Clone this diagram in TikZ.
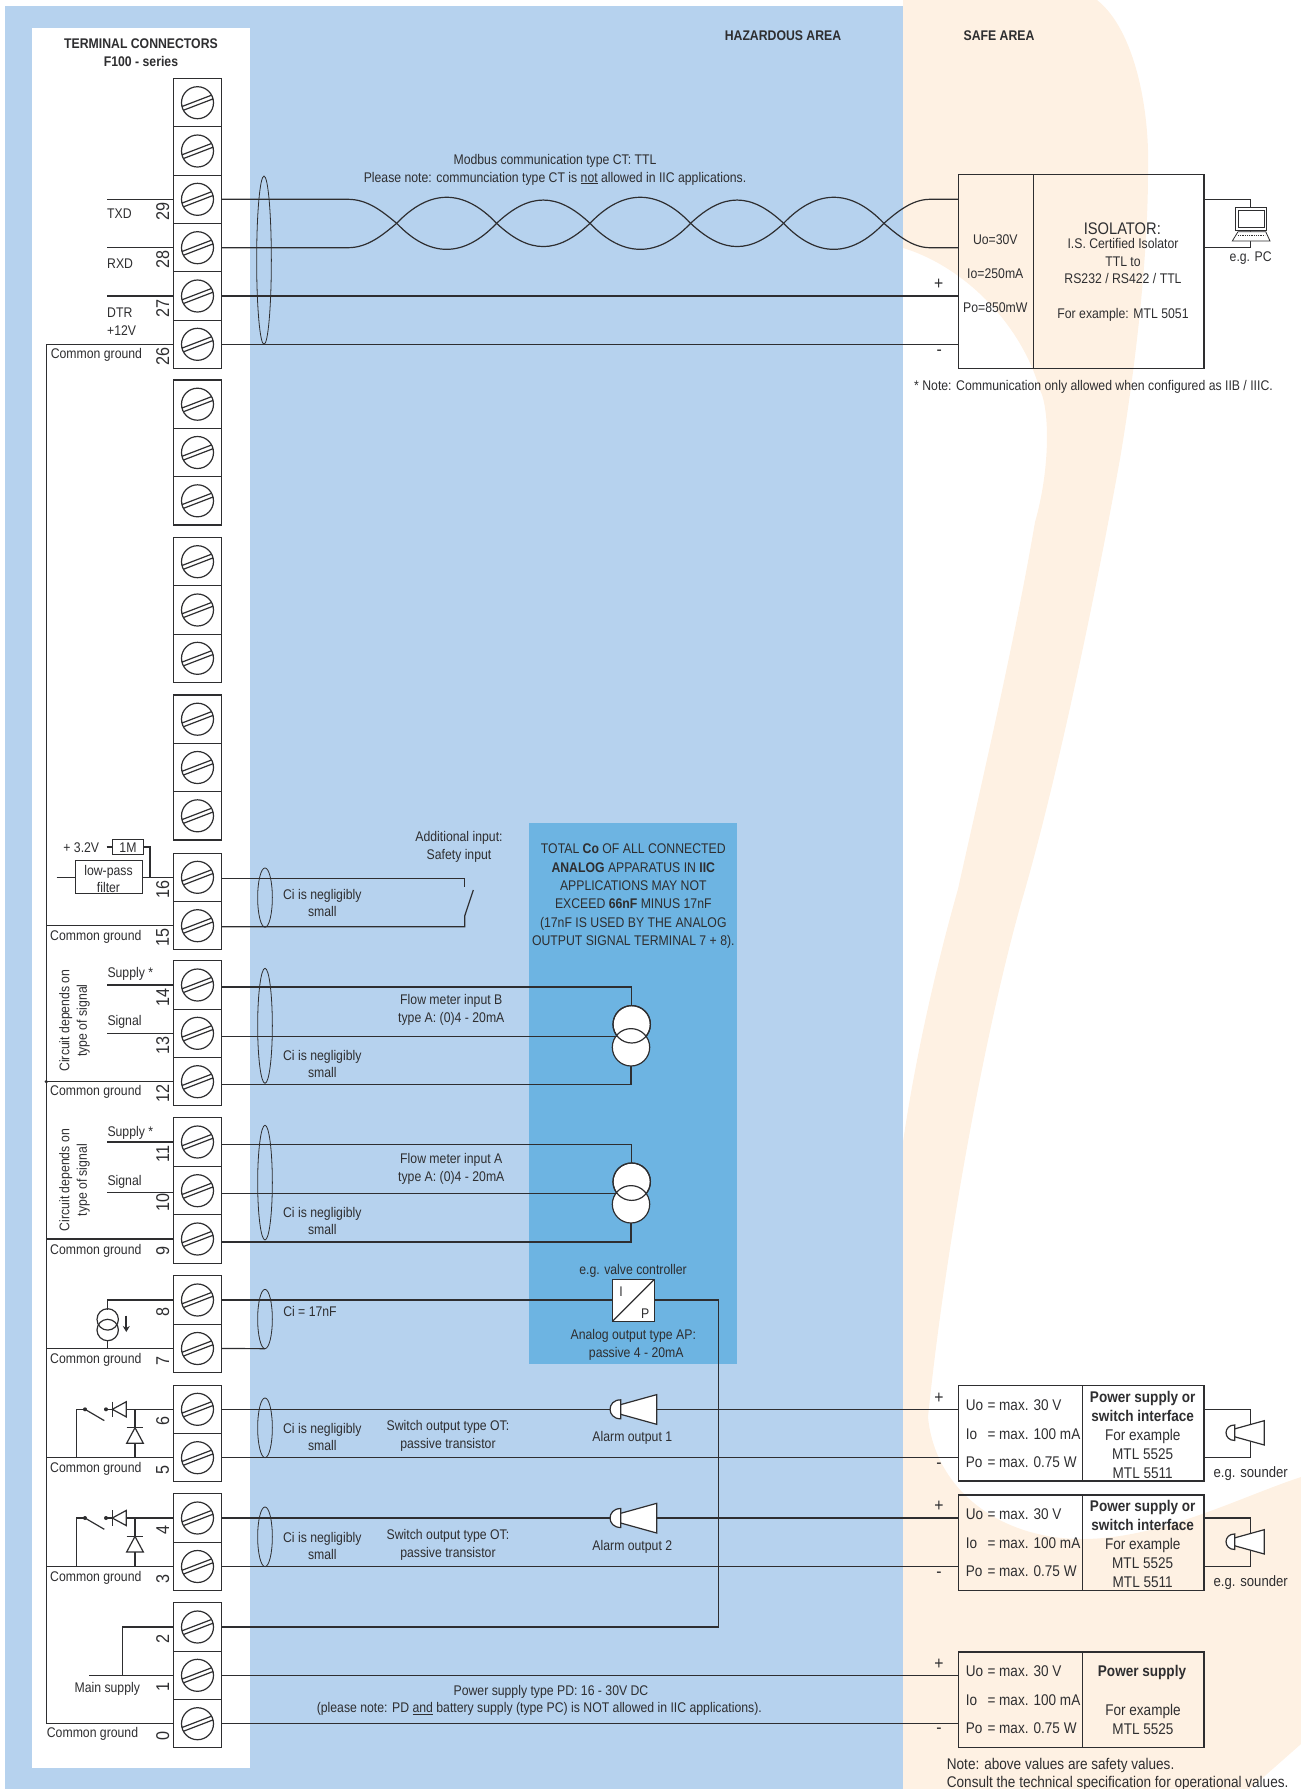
\documentclass[tikz,border=0pt]{standalone}
\usepackage{fontspec}
\setmainfont[FakeStretch=0.875]{Liberation Sans}
\usetikzlibrary{shapes.geometric,arrows.meta}
\definecolor{hazblue}{HTML}{B6D2EE}
\definecolor{darkblue}{HTML}{6DB4E2}
\definecolor{safecream}{HTML}{FEF1E3}
\definecolor{inkcol}{HTML}{2E2E30}
\tikzset{
wire/.style={line width=1.2pt,draw=inkcol},
thinwire/.style={line width=0.8pt,draw=inkcol},
termcell/.style={rectangle,draw=inkcol,line width=1.2pt,fill=white,minimum width=48pt,minimum height=48.3pt,inner sep=0pt,outer sep=0pt},
cablering/.style={ellipse,draw=inkcol,line width=0.8pt,minimum width=14.7pt,inner sep=0pt,outer sep=0pt},
cursrc/.style={circle,draw=inkcol,line width=1.2pt,fill=white,minimum size=37.4pt,inner sep=0pt,outer sep=0pt},
boxcell/.style={rectangle,draw=inkcol,line width=1.3pt,inner sep=0pt,outer sep=0pt},
txt/.style={font=\fontsize{14}{17.5}\selectfont,inner sep=0pt,align=center,text=inkcol,yshift=-1.2pt},
ltxt/.style={txt,anchor=west,align=left},
hdr/.style={font=\fontsize{14}{18}\selectfont\bfseries,inner sep=0pt,align=center,text=inkcol,yshift=-1pt},
safetxt/.style={font=\fontsize{15.5}{19}\selectfont,inner sep=0pt,align=center,text=inkcol,yshift=-1pt},
signtxt/.style={font=\fontsize{18}{20}\selectfont,inner sep=0pt,text=inkcol},
numtxt/.style={font=\fontsize{18.5}{20}\selectfont,inner sep=0pt,rotate=90,text=inkcol},
}
\newcommand{\hornsym}[3]{
\begin{scope}[shift={(#1,#2)},scale=#3]
\draw[wire,fill=white] (10.7,-9.5) ..controls (-3.5,-9.5) and (-3.5,9.5) .. (10.7,9.5) -- cycle;
\draw[wire,fill=white] (10.7,-4.7) -- (46.7,-14.7) -- (46.7,15) -- (10.7,5) -- cycle;
\end{scope}
}
\begin{document}
\begin{tikzpicture}[x=1pt,y=-1pt]
\useasboundingbox (0,0) rectangle (1301,1789);
\fill[safecream] (903,0) -- (1097,0) ..controls (1135,30) and (1150,110) .. (1148,172) ..controls (1148,260) and (1135,370) .. (1120,459) ..controls (1100,570) and (1060,770) .. (1022,900) ..controls (985,1030) and (945,1250) .. (928,1417) ..controls (935,1490) and (1000,1539) .. (1082,1539) ..controls (1160,1539) and (1240,1497) .. (1301,1477) -- (1301,1744) -- (1250,1789) -- (903,1789) -- (903,1142) ..controls (915,1060) and (935,970) .. (958,889) ..controls (980,790) and (1015,640) .. (1035,522) ..controls (1050,470) and (1050,410) .. (1040,390) ..controls (1020,320) and (960,265) .. (903,248) -- cycle;
\fill[hazblue] (5,6) rectangle (903,1789);
\fill[white] (32,28) rectangle (250,1767.8);
\fill[darkblue] (529,823) rectangle (737,1364);

\node[hdr] (areahaz) at (783,34.5) {HAZARDOUS AREA};
\node[hdr] (areasafe) at (999,34.5) {SAFE AREA};
\node[hdr] (termtitle) at (141,52) {TERMINAL CONNECTORS\\F100 - series};

\foreach \n/\yy in {a/102.7,b/151,29/199.3,28/247.7,27/296,26/344.3,c/404.2,d/452.5,e/500.8,f/561.7,g/610,h/658.3,k/719.2,l/767.5,m/815.8,16/877.3,15/925.7,14/985,13/1033.3,12/1081.7,11/1142,10/1190.7,9/1239,8/1300,7/1348.5,6/1409.3,5/1457.7,4/1518,3/1566.5,2/1627,1/1675.3,0/1723.7} {
\node[termcell] (t\n) at (197.5,\yy) {};
\draw[wire,shift={(t\n.center)}] (0,0) circle [radius=16] (-14.13,7.56) -- (15.57,-3.82) (-15.57,3.82) -- (14.13,-7.56);
}
\foreach \n in {29,28,27,26,16,15,14,13,12,11,10,9,8,7,6,5,4,3,2,1,0} {
\node[numtxt] (n\n) at ([xshift=-10.8,yshift=-12]t\n.west) {\n};
}
\foreach \n/\d in {16/-1,15/-1,14/-2,13/-3,12/-3,11/-2.3,10/-2.8,9/-3} {
\coordinate (w\n) at ([yshift=\d]t\n.east);
}
\foreach \c/\yy/\h in {cabe/897.6/59.3,cabf/1025.8/115,cabg/1182.6/114.7,cabh/1319/59.3,cabi/1427.8/59.7,cabj/1536.8/59.7} {
\node[cablering,minimum height=\h pt] (\c) at (265,\yy) {};
}
\node[cablering,minimum height=168.3pt] (caba) at (264,260.2) {};

\node[boxcell,minimum width=75pt,minimum height=193.6pt] (isoa) at (996.2,271.5) {};
\node[boxcell,minimum width=170.3pt,minimum height=193.6pt] (isob) at (1118.9,271.5) {};
\node[txt,font=\fontsize{14}{34}\selectfont] (isovals) at (995.3,272) {Uo=30V\\Io=250mA\\Po=850mW};
\node[txt,font=\fontsize{16.8}{18}\selectfont] (isotitle) at (1122.3,227.7) {ISOLATOR:};
\node[txt] (isotext) at (1123,279) {I.S. Certified Isolator\\TTL to\\RS232 / RS422 / TTL\\[17.5pt]For example: MTL 5051};
\node[signtxt] (isoplus) at (938.7,284.3) {+};
\node[signtxt] (isominus) at (939.3,352.3) {-};
\node[ltxt] (isonote) at (914,386) {* Note: Communication only allowed when configured as IIB / IIIC.};

\coordinate (pc) at (1250.3,223);
\draw[wire] (isob.east |- t29.east) -| (pc);
\draw[wire] (isob.east |- t28.east) -| (pc);
\draw[thinwire,fill=white] (1235,207.3) rectangle (1266.7,230.7);
\draw[thinwire,fill=white] (1238.3,210) rectangle (1264,227.3);
\draw[thinwire,fill=white] (1238,231.7) -- (1265.7,231.7) -- (1270,241) -- (1232.3,241) -- cycle;
\draw[thinwire,densely dotted] (1238,235.5) -- (1265,235.5);
\node[txt] (pclabel) at (1250.7,257) {e.g. PC};

\node[txt] (modbustext) at (555,168.5) {Modbus communication type CT: TTL\\Please note: communciation type CT is \underline{not} allowed in IIC applications.};
\draw[wire] (t29.east) -- (348,199.3) ..controls (368,199.3) and (383,212) .. (396.7,223.3);
\draw[wire] (t28.east) -- (348,247.7) ..controls (368,247.7) and (383,234.6) .. (396.7,223.3);
\foreach \xa/\xb/\hh in {396.7/496.6/34.7,496.6/590/31,590/690.6/34.7,690.6/783.6/31,783.6/883.9/34.7} {
\draw[wire] (\xa,223.3) ..controls ({\xa+33},{223.3-\hh}) and ({\xb-33},{223.3-\hh}) .. (\xb,223.3);
\draw[wire] (\xa,223.3) ..controls ({\xa+33},{223.3+\hh}) and ({\xb-33},{223.3+\hh}) .. (\xb,223.3);
}
\draw[wire] (883.9,223.3) ..controls (897,212) and (912,199.3) .. (930,199.3) -- (isoa.west |- t29.east);
\draw[wire] (883.9,223.3) ..controls (897,234.6) and (912,247.7) .. (930,247.7) -- (isoa.west |- t28.east);
\draw[wire] (t27.east) -- (t27.east -| isoa.west);
\draw[wire] (t26.east) -- (t26.east -| isoa.west);

\draw[wire] (t29.west) -- ++(-66.5,0) coordinate (txdend);
\draw[wire] (t28.west) -- (t28.west -| txdend);
\draw[wire] (t27.west) -- (t27.west -| txdend);
\node[ltxt] (txdlabel) at (107,212.7) {TXD};
\node[ltxt] (rxdlabel) at (107,262) {RXD};
\node[ltxt] (dtrlabel) at (107,320.5) {DTR\\+12V};

\draw[wire] (t26.west) -- ++(-127.2,0) coordinate (gndtop) |- (t0.west);
\foreach \n/\yy in {15/936,12/1091,9/1249.6,7/1358.9,5/1467.8,3/1577} {
\draw[wire] (t\n.west) -- (t\n.west -| gndtop);
\node[ltxt] (g\n) at (50,\yy) {Common ground};
}
\fill[inkcol] (t12.west -| gndtop) circle [radius=1.8];
\node[ltxt] (g26) at (50.6,354) {Common ground};
\node[ltxt] (g0) at (46.7,1733) {Common ground};

\draw[wire] (56.7,877.3) -- (t16.west);
\node[boxcell,fill=white,minimum width=67pt,minimum height=32.6pt] (lowpass) at (108.8,877) {};
\node[txt] (lowpasstext) at (108.5,877.7) {low-pass\\filter};
\node[boxcell,fill=white,minimum width=30.6pt,minimum height=15.4pt] (onemeg) at (128,846.9) {};
\node[txt] (onemegtext) at (128,846.9) {1M};
\node[txt] (pluslabel) at (81.3,846.7) {+ 3.2V};
\draw[wire] (106.7,846.9) -- (onemeg.west);
\draw[wire] (onemeg.east) -- ++(6.7,0) |- (t16.west);

\draw[wire] (t14.west) -- ++(-66.2,0) coordinate (supb);
\draw[wire] (t13.west) -- (t13.west -| supb);
\draw[wire] (t11.west) -- (t11.west -| supb);
\draw[wire] ([yshift=-2]t10.west) -- ++(-66.2,0);
\node[ltxt] (supplyb) at (107.3,972.3) {Supply *};
\node[ltxt] (signalb) at (107.3,1021) {Signal};
\node[ltxt] (supplya) at (107.3,1132) {Supply *};
\node[ltxt] (signala) at (107.3,1180.7) {Signal};
\node[txt,rotate=90] (circb) at (74.5,1019.3) {Circuit depends on\\type of signal};
\node[txt,rotate=90] (circa) at (74.5,1179) {Circuit depends on\\type of signal};

\coordinate (swt) at (464.7,887);
\coordinate (swb) at (464.7,916);
\draw[wire] (w16) -| (swt);
\draw[wire] (w15) -| (swb) -- (473.3,890);
\node[txt] (safetytext) at (459,845.8) {Additional input:\\Safety input};
\node[txt] (citexte) at (322.3,901.7) {Ci is negligibly\\small};
\node[txt] (citextf) at (322.3,1062.8) {Ci is negligibly\\small};
\node[txt] (citextg) at (322.3,1220) {Ci is negligibly\\small};
\node[txt] (citexth) at (310,1310.6) {Ci = 17nF};
\node[txt] (citexti) at (322.3,1436) {Ci is negligibly\\small};
\node[txt] (citextj) at (322.3,1545) {Ci is negligibly\\small};

\node[txt,font=\fontsize{14}{18.4}\selectfont] (warning) at (633.3,895) {TOTAL {\bfseries Co} OF ALL CONNECTED\\{\bfseries ANALOG} APPARATUS IN {\bfseries IIC}\\APPLICATIONS MAY NOT\\EXCEED {\bfseries 66nF} MINUS 17nF\\(17nF IS USED BY THE ANALOG\\OUTPUT SIGNAL TERMINAL 7 + 8).};

\node[cursrc] (csb1) at (631.7,1024.3) {};
\node[cursrc] (csb2) at (631,1047.3) {};
\draw[wire] (csb1.center) circle [radius=18.7];
\node[cursrc] (csa1) at (631.7,1181.7) {};
\node[cursrc] (csa2) at (631,1204.3) {};
\draw[wire] (csa1.center) circle [radius=18.7];
\draw[wire] (w14) -| (csb1.north);
\draw[wire] (w13) -- ++(395,0);
\draw[wire] (w12) -| (csb2.south);
\draw[wire] (w11) -| (csa1.north);
\draw[wire] (w10) -- ++(395,0);
\draw[wire] (w9) -| (csa2.south);
\node[txt] (flowb) at (451.3,1008.5) {Flow meter input B\\type A: (0)4 - 20mA};
\node[txt] (flowa) at (451.3,1167.5) {Flow meter input A\\type A: (0)4 - 20mA};

\node[rectangle,draw=inkcol,line width=1.2pt,fill=white,minimum size=42pt,inner sep=0pt,outer sep=0pt] (ipbox) at (633.3,1300.5) {};
\draw[wire] (ipbox.south west) -- (ipbox.north east);
\node[txt] (iplabel) at (621,1290) {I};
\node[txt] (plabel) at (645.3,1312.3) {P};
\draw[wire] (t8.east) -- (t8.east -| ipbox.west);
\draw[wire] (t8.east -| ipbox.east) -- ++(64,0) |- (t2.east);
\draw[wire] (t7.east) -- (cabh.south);
\node[txt] (valvetext) at (633,1270) {e.g. valve controller};
\node[txt] (analogtext) at (633.3,1343.5) {Analog output type AP:\\\hspace{6pt}passive 4 - 20mA};

\draw[wire] (t8.west) -| (107.7,1310);
\node[circle,draw=inkcol,line width=1.2pt,minimum size=21.4pt,inner sep=0pt,outer sep=0pt] (curtop) at (107.7,1319.4) {};
\node[circle,draw=inkcol,line width=1.2pt,minimum size=21.4pt,inner sep=0pt,outer sep=0pt] (curbot) at (107.7,1330) {};
\draw[wire] (curbot.south) -- (curbot.south |- t7.west);
\draw[line width=2pt,draw=inkcol,-{Stealth[length=6pt,width=7pt]}] (126.3,1315.7) -- (126.3,1332);

\foreach \n/\m/\yy in {6/5/1409.3,4/3/1518} {
\begin{scope}[shift={(0,\yy)}]
\draw[wire] (t\n.west) -- (126.3,0);
\draw[wire,fill=white] (112.3,0) -- (126.3,-7.6) -- (126.3,7.6) -- cycle;
\draw[wire] (112.3,-7.6) -- (112.3,7.6);
\draw[wire] (135,0) -- (135,18.4);
\draw[wire,fill=white] (135,18.4) -- (143.3,33.9) -- (126.7,33.9) -- cycle;
\draw[wire] (126.7,18.4) -- (143.3,18.4);
\draw[wire] (135,33.9) -- (135 ,48.4);
\fill[inkcol] (106,0) circle [radius=2];
\fill[inkcol] (85,0) circle [radius=2];
\draw[wire] (106,0) -- (112.3,0);
\draw[wire] (85,0) -- (104.3,11.3);
\draw[wire] (85,0) -- (76.7,0) -- (76.7,48.4);
\end{scope}
}

\draw[wire] (t2.west) -- ++(-50.8,0) |- (t1.west);
\draw[wire] (t1.west) -- ++(-84.2,0);
\node[txt] (mainlabel) at (107.3,1687.8) {Main supply};

\node[txt] (switchi) at (448,1434.6) {Switch output type OT:\\passive transistor};
\node[txt] (switchj) at (448,1543.7) {Switch output type OT:\\passive transistor};

\foreach \b/\yy in {psa/1433.3,psb/1542.5,psc/1699.6} {
\node[boxcell,minimum width=124pt,minimum height=95.3pt] (\b1) at (1020.3,\yy) {};
\node[boxcell,minimum width=121.7pt,minimum height=95.3pt] (\b2) at (1143.2,\yy) {};
\node[safetxt,anchor=west,align=left,font=\fontsize{15.5}{28.5}\selectfont] (\b v) at (965.7,\yy-0.5) {\makebox[21.6pt][l]{Uo}= max. 30 V\\\makebox[21.6pt][l]{Io}= max. 100 mA\\\makebox[21.6pt][l]{Po}= max. 0.75 W};
}
\node[safetxt] (psatext) at (1142.7,1434) {{\bfseries Power supply or}\\{\bfseries switch interface}\\For example\\MTL 5525\\MTL 5511};
\node[safetxt] (psbtext) at (1142.7,1543) {{\bfseries Power supply or}\\{\bfseries switch interface}\\For example\\MTL 5525\\MTL 5511};
\node[safetxt] (psctitle) at (1142,1671.7) {\bfseries Power supply};
\node[safetxt] (psctext) at (1143,1718.8) {For example\\MTL 5525};

\foreach \b/\p/\q in {psa/6/5,psb/4/3,psc/1/0} {
\draw[wire] (t\p.east) -- (t\p.east -| \b1.west);
\draw[wire] (t\q.east) -- (t\q.east -| \b1.west);
}
\foreach \b/\pp/\mm in {psa/1398.3/1465.7,psb/1506.7/1574.3,psc/1664.3/1731} {
\node[signtxt] (\b plus) at (939,\pp) {+};
\node[signtxt] (\b minus) at (939,\mm) {-};
}
\hornsym{610}{1409.3}{1}
\hornsym{610}{1518}{1}
\node[txt] (alarma) at (632.3,1436.7) {Alarm output 1};
\node[txt] (alarmb) at (632.3,1546) {Alarm output 2};

\foreach \b/\p/\q/\yy/\ll in {psa/6/5/1432.7/1472.7,psb/4/3/1541.7/1581.7} {
\draw[wire] (\b2.east |- t\p.west) -- ++(46.3,0) |- (\b2.east |- t\q.west);
\hornsym{1226}{\yy}{0.82}
\node[safetxt,font=\fontsize{15}{17}\selectfont] (\b snd) at (1250.7,\ll) {e.g. sounder};
}

\node[txt] (pdtitle) at (551,1690.8) {Power supply type PD: 16 - 30V DC};
\node[txt] (pdnote) at (539.3,1708) {(please note: PD \underline{and} battery supply (type PC) is NOT allowed in IIC applications).};
\node[safetxt,anchor=west,align=left,font=\fontsize{15.5}{18.4}\selectfont] (safenote) at (946.7,1773.5) {Note: above values are safety values.\\Consult the technical specification for operational values.};
\end{tikzpicture}
\end{document}
